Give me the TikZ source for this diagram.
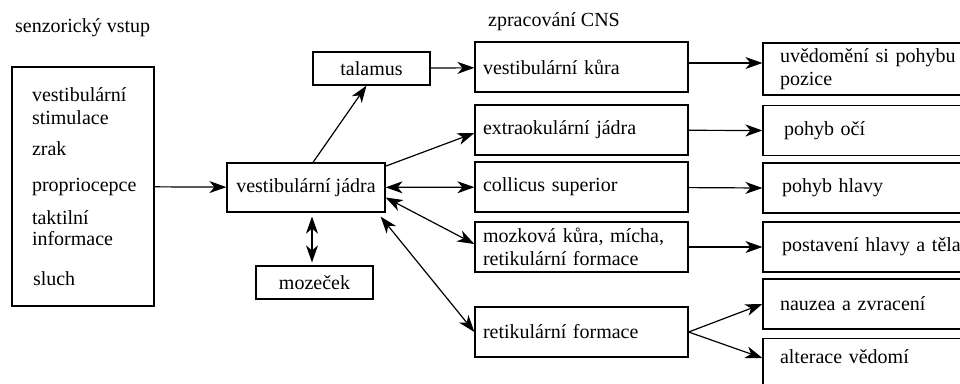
\documentclass[tikz,border=0pt]{standalone}
\usepackage{fontspec}
\setmainfont{Liberation Serif}
\usetikzlibrary{arrows.meta}

\tikzset{
  box/.style={draw, line width=1.2pt, rectangle, inner xsep=6pt, inner ysep=3pt,
    font=\fontsize{20}{23}\selectfont},
  midbox/.style={box, inner xsep=8pt, align=left, text width=197pt, minimum height=50pt},
  outbox/.style={box, inner xsep=17pt, align=left, text width=200pt, minimum height=50pt},
  title/.style={anchor=base west, inner sep=0pt, font=\fontsize{20}{23}\selectfont},
  tip/.tip={Stealth[length=17pt, width=12pt, inset=5pt]},
  link/.style={-tip, line width=1.2pt},
  both/.style={tip-tip, line width=1.2pt}
}

\begin{document}
\begin{tikzpicture}[x=1pt, y=-1pt]
  \useasboundingbox (0,0) rectangle (960,383);

  % titles
  \node [title] (t1) at (15,32) {senzorický vstup};
  \node [title] (t2) at (488,26) {zpracování CNS};

  % input box
  \node [box, inner xsep=20pt, align=left, text width=102pt, minimum height=239pt]
    (vstup) at (83,186.5) {vestibulární\\ stimulace\\[8pt] zrak\\[13pt] propriocepce\\[10pt]
    taktilní\\[-2pt] informace\\[17pt] \hspace*{1pt}sluch};

  \node [box, minimum width=158pt, minimum height=49pt] (vj) at (306,187.5) {vestibulární jádra};
  \node [box, minimum width=117pt, minimum height=33pt] (tal) at (371.5,68.5) {talamus};
  \node [box, minimum width=117pt, minimum height=33pt] (moz) at (314.5,282.5) {mozeček};

  % processing
  \node [midbox] (vk) at (581.5,67) {vestibulární kůra};
  \node [midbox] (eo) at (581.5,130) {extraokulární jádra};
  \node [midbox] (cs) at (581.5,187) {collicus superior};
  \node [midbox] (mk) at (581.5,247) {mozková kůra, mícha,\\ retikulární formace};
  \node [midbox] (rf) at (581.5,332) {retikulární formace};

  % outputs (they run past the right edge)
  \node [outbox, minimum height=52pt] (uv) at (880,69) {uvědomění si pohybu\\ pozice};
  \node [outbox] (po) at (880,130.5) {\hspace*{4pt}pohyb očí};
  \node [outbox] (ph) at (880,188) {\hspace*{2pt}pohyb hlavy};
  \node [outbox] (ps) at (880,247) {\hspace*{2pt}postavení hlavy a těla};
  \node [outbox] (nz) at (880,304) {nauzea a zvracení};
  \node [outbox, anchor=north, inner ysep=6pt, text height=19pt, text depth=30pt]
    (av) at (880,338) {alterace vědomí};

  % connections
  \draw [link] (vstup) -- (vj);
  \draw [link] ([xshift=7pt]vj.north) -- ([xshift=-5pt]tal.south);
  \draw [link] (tal) -- (vk);
  \draw [link] (vj.15) -- ([yshift=-3pt]eo.west);
  \draw [both] (vj) -- (cs);
  \draw [both] ([yshift=-10pt]vj.east) -- ([yshift=3pt]mk.west);
  \draw [both] ([shift={(-5pt,-4pt)}]vj.south east) -- (rf.west);
  \draw [both] ([xshift=6pt,yshift=-4pt]vj.south) -- ([xshift=-2.5pt,yshift=3pt]moz.north);

  \coordinate (vkout) at ([yshift=4pt]vk.east);
  \draw [link] (vkout) -- (vkout -| uv.west);
  \draw [link] (eo) -- (po.west);
  \draw [link] (cs) -- (ph.west);
  \draw [link] (mk) -- (ps.west);
  \draw [link] (rf.east) -- (nz.west);
  \draw [link] (rf.east) -- ([yshift=-20pt]av.north west);
\end{tikzpicture}
\end{document}
